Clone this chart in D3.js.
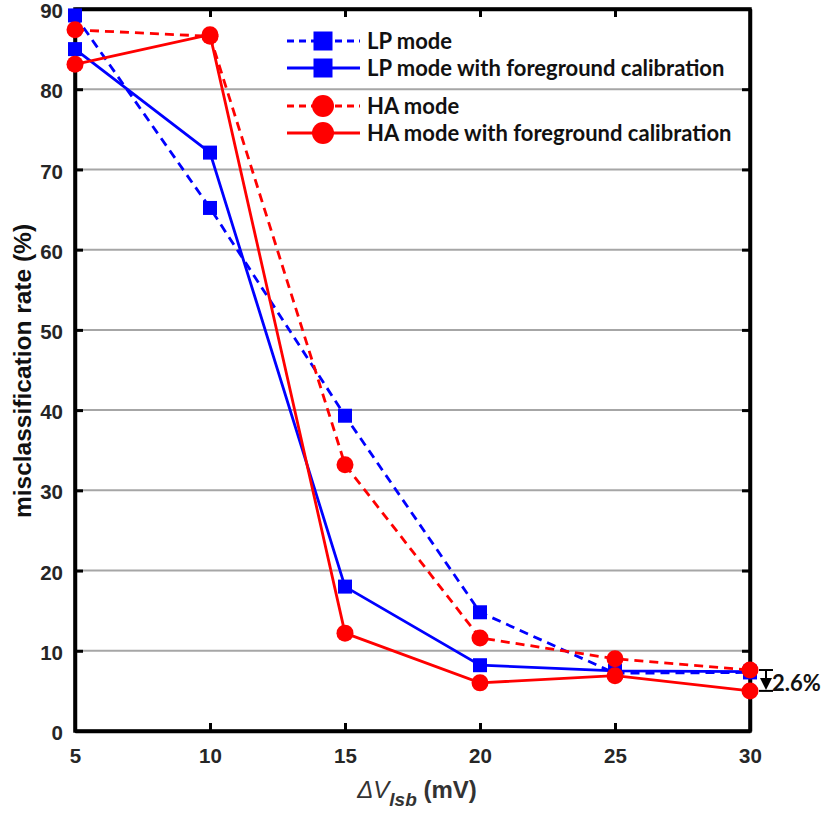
<!DOCTYPE html>
<html><head><meta charset="utf-8">
<script src="https://cdn.jsdelivr.net/npm/d3@7"></script>
<style>body{margin:0;background:#fff}svg{display:block}</style>
</head><body>
<svg id="c" width="823" height="814"></svg>
<script>
const xValues = [5, 10, 15, 20, 25, 30];
const lpMode = [89.2, 65.2, 39.3, 14.8, 7.2, 7.3];
const lpCal = [85.0, 72.1, 18.0, 8.2, 7.5, 7.4];
const haMode = [87.4, 86.6, 33.2, 11.6, 9.0, 7.6];
const haCal = [83.1, 86.8, 12.2, 6.0, 6.9, 5.0];
const yTicks = [0, 10, 20, 30, 40, 50, 60, 70, 80, 90];
const xTicks = [5, 10, 15, 20, 25, 30];
const seriesNames = ["LP mode", "LP mode with foreground calibration", "HA mode", "HA mode with foreground calibration"];

(function () {
const svg = d3.select("#c");
const L = 75, R = 750, T = 9, B = 731;
const x = d3.scaleLinear().domain([5, 30]).range([L, R]);
const y = d3.scaleLinear().domain([0, 90]).range([B, T]);
const font = "'Liberation Sans', Arial, sans-serif";
const txt = "#262626";

// gridlines
svg.append("g").selectAll("line").data(yTicks.filter(d => d > 0 && d < 90)).join("line")
  .attr("x1", L).attr("x2", R).attr("y1", d => y(d)).attr("y2", d => y(d))
  .attr("stroke", "#a6a6a6").attr("stroke-width", 2);

// axes
const ax = svg.append("g").attr("font-family", font);
ax.append("g").attr("transform", `translate(0,${B})`)
  .call(d3.axisBottom(x).tickValues(xTicks).tickSizeInner(-8).tickSizeOuter(0).tickPadding(17));
ax.append("g").attr("transform", `translate(0,${T})`)
  .call(d3.axisTop(x).tickValues(xTicks).tickSizeInner(-8).tickSizeOuter(0).tickFormat(""));
const yl = ax.append("g").attr("transform", `translate(${L},0)`)
  .call(d3.axisLeft(y).tickValues(yTicks).tickSizeInner(-8).tickSizeOuter(0).tickPadding(12));
yl.selectAll(".tick text").attr("dy", "0.42em");
ax.append("g").attr("transform", `translate(${R},0)`)
  .call(d3.axisRight(y).tickValues(yTicks).tickSizeInner(-8).tickSizeOuter(0).tickFormat(""));
ax.selectAll(".domain").attr("stroke", "#000").attr("stroke-width", 3.5);
ax.selectAll(".tick line").attr("stroke", "#000").attr("stroke-width", 3);
ax.selectAll(".tick text").attr("fill", txt).attr("font-size", 20.5).attr("font-weight", "bold");

svg.append("rect").attr("x", L).attr("y", T).attr("width", R - L).attr("height", B - T)
  .attr("fill", "none").attr("stroke", "#000").attr("stroke-width", 3.5);

const series = [
  {name: seriesNames[0], vals: lpMode, color: "#0000ff", dash: "9,6", shape: "square"},
  {name: seriesNames[1], vals: lpCal, color: "#0000ff", dash: null, shape: "square"},
  {name: seriesNames[2], vals: haMode, color: "#ff0000", dash: "9,6", shape: "circle"},
  {name: seriesNames[3], vals: haCal, color: "#ff0000", dash: null, shape: "circle"}
];
const line = d3.line().x((d, i) => x(xValues[i])).y(d => y(d));

function marker(g, shape, color, cx, cy, big) {
  if (shape === "square") {
    const s = big ? 19 : 14;
    g.append("rect").attr("x", cx - s / 2).attr("y", cy - s / 2).attr("width", s).attr("height", s).attr("fill", color);
  } else {
    g.append("circle").attr("cx", cx).attr("cy", cy).attr("r", big ? 11 : 8.5).attr("fill", color);
  }
}

series.forEach(s => {
  const g = svg.append("g");
  g.append("path").datum(s.vals).attr("d", line).attr("fill", "none")
    .attr("stroke", s.color).attr("stroke-width", 2.8).attr("stroke-dasharray", s.dash);
  s.vals.forEach((v, i) => marker(g, s.shape, s.color, x(xValues[i]), y(v), false));
});

// legend
const legY = [41, 68, 106, 133];
const lg = svg.append("g").attr("font-family", "Lato, 'Open Sans', sans-serif");
series.forEach((s, i) => {
  const gy = legY[i];
  lg.append("line").attr("x1", 287).attr("x2", 360).attr("y1", gy).attr("y2", gy)
    .attr("stroke", s.color).attr("stroke-width", 3).attr("stroke-dasharray", s.dash ? "7,5" : null);
  marker(lg, s.shape, s.color, 323, gy, true);
  lg.append("text").attr("x", 367).attr("y", gy + 8).attr("font-size", 22).attr("font-weight", "bold")
    .attr("fill", "#111").text(s.name);
});

// axis labels
svg.append("text").attr("transform", `translate(31,371) rotate(-90)`)
  .attr("text-anchor", "middle").attr("font-family", font).attr("font-size", 24.5).attr("font-weight", "bold")
  .attr("fill", "#111").text("misclassification rate (%)");

const xl = svg.append("text").attr("x", 417).attr("y", 798).attr("text-anchor", "middle")
  .attr("font-family", font).attr("font-size", 24).attr("fill", "#333");
xl.append("tspan").attr("font-style", "italic").text("\u0394V");
xl.append("tspan").attr("font-style", "italic").attr("font-weight", "bold").attr("font-size", 19).attr("dy", 8).text("lsb");
xl.append("tspan").attr("font-weight", "bold").attr("dy", -8).text(" (mV)");

// 2.6% annotation
const ann = svg.append("g");
const ax0 = 766, yTop = y(haMode[5]), yBot = y(haCal[5]);
ann.append("line").attr("x1", 759).attr("x2", 773).attr("y1", yTop).attr("y2", yTop).attr("stroke", "#000").attr("stroke-width", 2);
ann.append("line").attr("x1", 759).attr("x2", 773).attr("y1", yBot).attr("y2", yBot).attr("stroke", "#000").attr("stroke-width", 2);
ann.append("line").attr("x1", ax0).attr("x2", ax0).attr("y1", yTop).attr("y2", yBot - 10).attr("stroke", "#000").attr("stroke-width", 2);
ann.append("path").attr("d", `M${ax0 - 6},${yBot - 13} L${ax0 + 6},${yBot - 13} L${ax0},${yBot - 1} Z`).attr("fill", "#000");
ann.append("text").attr("x", 772).attr("y", 691).attr("font-family", "Lato, 'Open Sans', sans-serif")
  .attr("font-size", 22).attr("font-weight", "bold").attr("fill", "#111").text("2.6%");
})();
</script>
</body></html>
